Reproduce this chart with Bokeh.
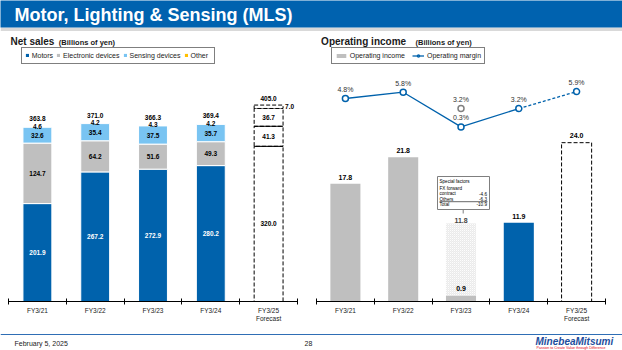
import numpy as np
from bokeh.plotting import figure
from bokeh.models import (Range1d, FixedTicker, LinearAxis, Legend, LegendItem, Label,
                          ColumnDataSource, Span)
from bokeh.layouts import column, row
from bokeh.embed import file_html
from bokeh.resources import INLINE
from bokeh.core.properties import value

# ---------------- data ----------------
categories = ["FY3/21", "FY3/22", "FY3/23", "FY3/24", "FY3/25"]
tick_labels = ["FY3/21", "FY3/22", "FY3/23", "FY3/24", "FY3/25\nForecast"]
motors = [201.9, 267.2, 272.9, 280.2, 320.0]
electronic = [124.7, 64.2, 51.6, 49.3, 41.3]
sensing = [32.6, 35.4, 37.5, 35.7, 36.7]
other = [4.6, 4.2, 4.3, 4.2, 7.0]
net_sales_total = [363.8, 371.0, 366.3, 369.4, 405.0]
op_income = [17.8, 21.8, 0.9, 11.9, 24.0]
op_income_excl_special = 11.8          # FY3/23 before special factors
op_margin = [4.8, 5.8, 0.3, 3.2, 5.9]
op_margin_excl_special = 3.2           # FY3/23 before special factors
special_factor_names = ["FX forward\ncontract", "Others", "Total"]
special_factor_values = [-4.6, -6.3, -10.9]

# ---------------- style ----------------
FONT = "Liberation Sans"
BLUE = "#0062AC"
GRAY = "#BFBFBF"
LIGHT = "#79C4F2"
ORANGE = "#FFC000"
TXT = "#1A1A1A"

W, HDR_H, CH_H, FT_H = 622, 31, 299, 20
FRAME_BOTTOM = 29
FRAME_H = CH_H - FRAME_BOTTOM          # 270 px: axis baseline at page y 301
BASE_Y = HDR_H + FRAME_H               # 301
xs = list(range(len(categories)))
n = len(categories)
f = n - 1                              # forecast index
YL = 556.7                             # left y-range end
YR = 40.8                              # right y-range end
MARGIN_RANGE = (-27.4, 15.43)


def chart_fig(ymax, ml, mr):
    p = figure(width=311, height=CH_H, x_range=Range1d(-0.5, n - 0.5), y_range=Range1d(0, ymax),
               x_axis_type=None, y_axis_type=None, toolbar_location=None, output_backend="svg",
               min_border_left=ml, min_border_right=mr, min_border_top=0, min_border_bottom=FRAME_BOTTOM)
    p.outline_line_color = None
    p.background_fill_color = "white"
    p.border_fill_color = "white"
    ax = LinearAxis(ticker=FixedTicker(ticks=xs, minor_ticks=[i - 0.5 for i in range(n + 1)]),
                    major_label_overrides={i: t for i, t in enumerate(tick_labels)})
    ax.axis_line_color = "black"
    ax.axis_line_width = 1
    ax.major_tick_in = 0
    ax.major_tick_out = 0
    ax.minor_tick_in = 3
    ax.minor_tick_out = 3
    ax.minor_tick_line_color = "black"
    ax.minor_tick_line_width = 1
    ax.major_label_text_font = FONT
    ax.major_label_text_font_size = "6.5px"
    ax.major_label_text_color = TXT
    ax.major_label_standoff = 2
    p.add_layout(ax, "below")
    return p


def legend(items, loc, gw, gh, spacing):
    return Legend(items=items, orientation="horizontal", location=loc, margin=0,
                  glyph_width=gw, glyph_height=gh, label_standoff=3, spacing=spacing, padding=3,
                  label_height=9, label_text_font=FONT, label_text_font_size="7px",
                  label_text_color=TXT, border_line_color="black", border_line_width=1,
                  background_fill_color="white", background_fill_alpha=1)


# ================= LEFT: Net sales =================
pl = chart_fig(YL, 8, 14)
L_X0, L_SX, L_SY = 8, 289 / n, FRAME_H / YL
lx = lambda gx: (gx - L_X0) / L_SX - 0.5
ly = lambda gy: (BASE_Y - gy) / L_SY

m = np.array(motors)
e = np.array(electronic)
s = np.array(sensing)
tot = np.array(net_sales_total)

hist = ColumnDataSource(dict(x=xs[:f], motors=motors[:f], electronic=electronic[:f], sensing=sensing[:f]))
pl.vbar_stack(["motors", "electronic", "sensing"], x="x", width=0.5, source=hist,
              fill_color=[BLUE, GRAY, LIGHT], line_color="white", line_width=1)

fc_vals = np.array([motors[f], electronic[f], sensing[f], other[f]])
fc_top = np.cumsum(fc_vals)
fc_bot = fc_top - fc_vals
pl.vbar(x=[xs[f]] * 4, bottom=fc_bot, top=fc_top, width=0.5, fill_color="white",
        line_color="black", line_dash="4 2", line_width=1)
pl.segment(x0=[xs[f] - 0.25] * 2, x1=[xs[f] + 0.25] * 2, y0=fc_top[:2], y1=fc_top[:2],
           line_color="black", line_width=1)

lab = dict(text_font=value(FONT), text_font_size="6.5px", text_font_style="bold",
           text_align="center", text_baseline="middle")
pl.text(x=xs, y=m / 2, text=[f"{v:.1f}" for v in motors],
        text_color=["white"] * f + ["black"], **lab)
pl.text(x=xs, y=m + e / 2, text=[f"{v:.1f}" for v in electronic], text_color="black", **lab)
pl.text(x=xs, y=m + e + s / 2, text=[f"{v:.1f}" for v in sensing], text_color="black", **lab)
pl.text(x=xs[:f], y=tot[:f], text=[f"{v:.1f}" for v in other[:f]], text_color="black", y_offset=1, **lab)
pl.text(x=xs, y=tot, text=[f"{v:.1f}" for v in net_sales_total], text_color="black", y_offset=-6.5, **lab)
lab_left = dict(lab)
lab_left["text_align"] = "left"
pl.text(x=[xs[f] + 0.25], y=[fc_bot[3] + other[f] / 2], text=[f"{other[f]:.1f}"],
        text_color="black", x_offset=2, **lab_left)

# zero-height legend proxies
proxies_l = [pl.vbar(x=xs[:1], top=[0], width=0.5, fill_color=c, line_color=None)
             for c in [BLUE, GRAY, LIGHT, ORANGE]]
pl.add_layout(legend([LegendItem(label=t, renderers=[r]) for t, r in
                      zip(["Motors", "Electronic devices", "Sensing devices", "Other"], proxies_l)],
                     (12.7, 237.5), 4, 4, 3))

pl.add_layout(Label(x=lx(10), y=ly(41.3), text="Net sales", text_font=FONT, text_font_size="10px",
                    text_font_style="bold", text_color=TXT, text_baseline="middle"))
pl.add_layout(Label(x=lx(58.3), y=ly(41.8), text="(Billions of yen)", text_font=FONT, text_font_size="7.5px",
                    text_font_style="bold", text_color=TXT, text_baseline="middle"))

# ================= RIGHT: Operating income =================
pr = chart_fig(YR, 5, 17)
pr.extra_y_ranges = {"margin": Range1d(*MARGIN_RANGE)}
R_X0, R_SX, R_SY = 311 + 5, 289 / n, FRAME_H / YR
rx = lambda gx: (gx - R_X0) / R_SX - 0.5
ry = lambda gy: (BASE_Y - gy) / R_SY

bar_cols = [GRAY, GRAY, GRAY, BLUE]
pr.vbar(x=xs[:f], top=op_income[:f], width=0.52, fill_color=bar_cols, line_color=None)
pr.vbar(x=[xs[2]], bottom=[op_income[2]], top=[op_income_excl_special], width=0.52,
        fill_color="#E2E2E2", line_color=None, hatch_pattern="criss_cross", hatch_color="white",
        hatch_scale=2, hatch_weight=0.6)
pr.vbar(x=[xs[f]], top=[op_income[f]], width=0.52, fill_color="white", line_color="black",
        line_dash="4 2", line_width=1)

lab7 = dict(text_font=value(FONT), text_font_size="7px", text_font_style="bold",
            text_align="center", text_baseline="middle")
pr.text(x=xs, y=op_income, text=[f"{v:.1f}" for v in op_income], text_color="black", y_offset=-6.7, **lab7)
pr.text(x=[xs[2]], y=[op_income_excl_special], text=[f"{op_income_excl_special:.1f}"],
        text_color="#444444", y_offset=-2.5, **lab7)

ln1 = pr.line(x=xs[:f], y=op_margin[:f], y_range_name="margin", line_color=BLUE, line_width=1.3)
pr.line(x=xs[f - 1:], y=op_margin[f - 1:], y_range_name="margin", line_color=BLUE, line_width=1.3,
        line_dash="3 2")
sc = pr.scatter(x=xs, y=op_margin, y_range_name="margin", marker="circle", size=6, fill_color="white",
                line_color=BLUE, line_width=1.5)
pr.scatter(x=[xs[2]], y=[op_margin_excl_special], y_range_name="margin", marker="circle", size=6,
           fill_color="white", line_color="#808080", line_width=1.5)
mlab = dict(text_font=value(FONT), text_font_size="7px", text_align="center", text_baseline="middle",
            text_color="#333333")
pr.text(x=xs, y=op_margin, text=[f"{v:.1f}%" for v in op_margin], y_range_name="margin", y_offset=-9, **mlab)
pr.text(x=[xs[2]], y=[op_margin_excl_special], text=[f"{op_margin_excl_special:.1f}%"],
        y_range_name="margin", y_offset=-9.3, **mlab)

# special factors callout
pr.segment(x0=[rx(462.7)], x1=[rx(462.7)], y0=[ry(209)], y1=[ry(213)], line_color="#7F7F7F", line_width=1)
pr.quad(left=[rx(437)], right=[rx(489)], top=[ry(176)], bottom=[ry(209)], fill_color="white",
        line_color="#7F7F7F", line_width=1)
sf = dict(text_font=value(FONT), text_font_size="4.6px", text_baseline="middle", text_color="black")
name_lines = ["Special factors"] + special_factor_names[0].split("\n") + special_factor_names[1:]
name_y = [181, 188, 193.2, 198.7, 203.8]
pr.text(x=[rx(439)] * len(name_lines), y=[ry(g) for g in name_y], text=name_lines, text_align="left", **sf)
pr.text(x=[rx(486.5)] * 3, y=[ry(g) for g in name_y[2:]], text=[f"{v:.1f}" for v in special_factor_values],
        text_align="right", **sf)
pr.segment(x0=[rx(439)], x1=[rx(487)], y0=[ry(201.2)], y1=[ry(201.2)], line_color="black", line_width=0.6)

proxy_r = pr.vbar(x=xs[:1], top=[0], width=0.5, fill_color=GRAY, line_color=None)
pr.add_layout(legend([LegendItem(label="Operating income", renderers=[proxy_r]),
                      LegendItem(label="Operating margin", renderers=[ln1, sc])],
                     (14.7, 237.5), 12, 5, 7))

pr.add_layout(Label(x=rx(320.6), y=ry(41.3), text="Operating income", text_font=FONT, text_font_size="10px",
                    text_font_style="bold", text_color=TXT, text_baseline="middle"))
pr.add_layout(Label(x=rx(415), y=ry(41.8), text="(Billions of yen)", text_font=FONT, text_font_size="7.5px",
                    text_font_style="bold", text_color=TXT, text_baseline="middle"))

# ================= header =================
hdr = figure(width=W, height=HDR_H, x_range=Range1d(0, W), y_range=Range1d(27, 0),
             x_axis_type=None, y_axis_type=None, toolbar_location=None, output_backend="svg",
             min_border_left=0, min_border_right=0, min_border_top=0, min_border_bottom=4)
hdr.background_fill_color = "#0062AF"
hdr.border_fill_color = "#D9D9D9"
hdr.outline_line_color = None
hdr.add_layout(Label(x=14, y=14.5, text="Motor, Lighting & Sensing (MLS)", text_color="white",
                     text_font=FONT, text_font_size="18px", text_font_style="bold",
                     text_baseline="middle"))

# ================= footer =================
ftr = figure(width=W, height=FT_H, x_range=Range1d(0, W), y_range=Range1d(FT_H, 0),
             x_axis_type=None, y_axis_type=None, toolbar_location=None, output_backend="svg",
             min_border_left=0, min_border_right=0, min_border_top=0, min_border_bottom=0)
ftr.outline_line_color = None
ftr.background_fill_color = "white"
ftr.border_fill_color = "white"
ftr.add_layout(Span(location=4, dimension="width", line_color="#2F6EB5", line_width=1))
ftr.add_layout(Label(x=14, y=13, text="February 5, 2025", text_font=FONT, text_font_size="7px",
                     text_color=TXT, text_baseline="middle"))
ftr.add_layout(Label(x=308, y=13, text="28", text_font=FONT, text_font_size="7px",
                     text_color=TXT, text_baseline="middle", text_align="center"))
ftr.add_layout(Label(x=535, y=10.5, text="MinebeaMitsumi", text_font=FONT, text_font_size="10px",
                     text_font_style="bold italic", text_color="#1D4D9C", text_baseline="middle"))
ftr.add_layout(Label(x=536, y=17.3, text="Passion to Create Value through Difference", text_font=FONT,
                     text_font_size="3.6px", text_color="#E60012", text_baseline="middle"))

layout = column(hdr, row(pl, pr, spacing=0), ftr, spacing=0)
open("out.html", "w").write(file_html(layout, INLINE))
